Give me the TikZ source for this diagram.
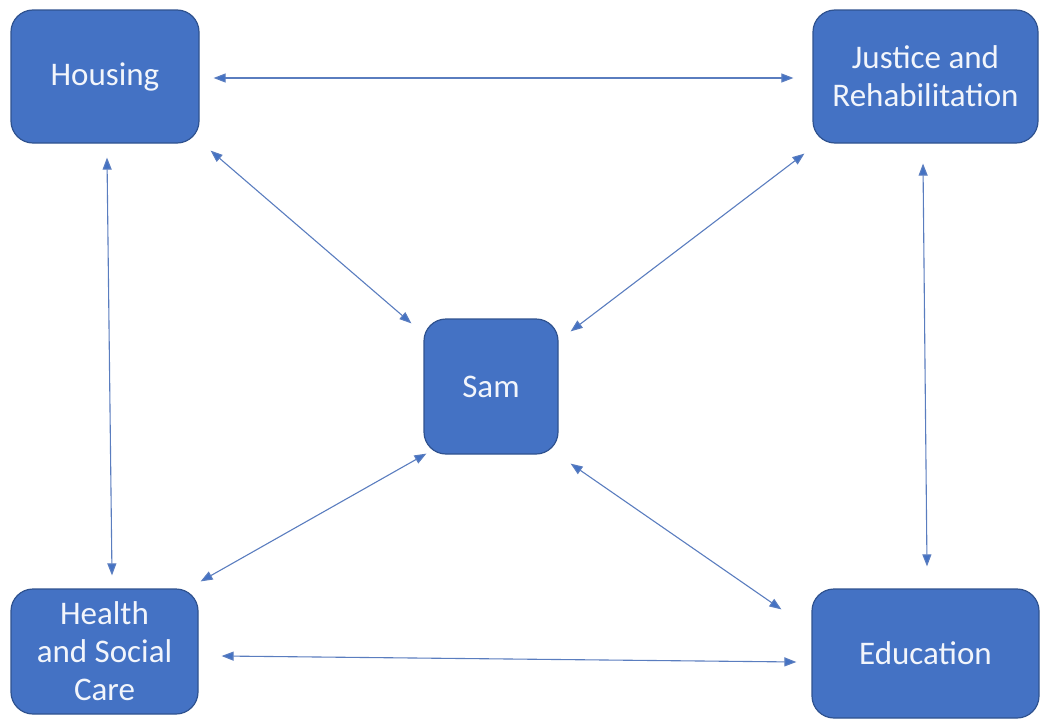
\documentclass[tikz,border=0pt]{standalone}
\usepackage{fontspec}
\setmainfont{Carlito}
\usetikzlibrary{arrows.meta}
\definecolor{boxblue}{HTML}{4472C4}
\definecolor{boxedge}{HTML}{2F528F}
\definecolor{linkcol}{HTML}{5A7DBF}
\definecolor{labelcol}{HTML}{F2F5FB}
\begin{document}
\begin{tikzpicture}[x=1pt,y=-1pt,
  agency/.style={draw=boxedge,line width=1.2pt,fill=boxblue,rounded corners=22pt,
    text=labelcol,font=\fontsize{33}{38}\selectfont,align=center,inner sep=0pt},
  link/.style={draw=linkcol,line width=1.1pt,
    {Triangle[length=12pt,width=9pt,fill=boxblue]}-{Triangle[length=12pt,width=9pt,fill=boxblue]}}]
\useasboundingbox (0,0) rectangle (1041,720);
\node[agency,minimum width=188pt,minimum height=133pt] (housing) at (105,76.5) {Housing};
\node[agency,minimum width=225pt,minimum height=133pt] (justice) at (925.5,76.5) {Justice and\\Rehabilitation};
\node[agency,minimum width=134pt,minimum height=135pt] (sam) at (491,386.5) {Sam};
\node[agency,minimum width=187pt,minimum height=125pt] (health) at (104.5,651.5) {Health\\and Social\\Care};
\node[agency,minimum width=227pt,minimum height=129pt] (education) at (925.5,653.5) {Education};
% top horizontal
\draw[link] ([xshift=14pt,yshift=-1.5pt]housing.east) -- ([xshift=-19pt,yshift=-1.5pt]justice.west);
% bottom horizontal
\draw[link] ([xshift=23pt,yshift=-4.5pt]health.east) -- ([xshift=-15pt,yshift=-8.5pt]education.west);
% left vertical
\draw[link] ([xshift=2pt,yshift=-14pt]housing.south) -- ([xshift=7.5pt,yshift=13pt]health.north);
% right vertical
\draw[link] ([xshift=-2.5pt,yshift=-20pt]justice.south) -- ([xshift=1.5pt,yshift=22pt]education.north);
% diagonals
\draw[link] ([xshift=11pt,yshift=-7pt]housing.south east) -- ([xshift=-12pt,yshift=-5pt]sam.north west);
\draw[link] ([xshift=-8pt,yshift=-10pt]justice.south west) -- ([xshift=12pt,yshift=-13pt]sam.north east);
\draw[link] ([xshift=3pt,yshift=1pt]sam.south west) -- ([xshift=2pt,yshift=7pt]health.north east);
\draw[link] ([xshift=12pt,yshift=-9pt]sam.south east) -- ([xshift=-30pt,yshift=-21pt]education.north west);
\end{tikzpicture}
\end{document}
